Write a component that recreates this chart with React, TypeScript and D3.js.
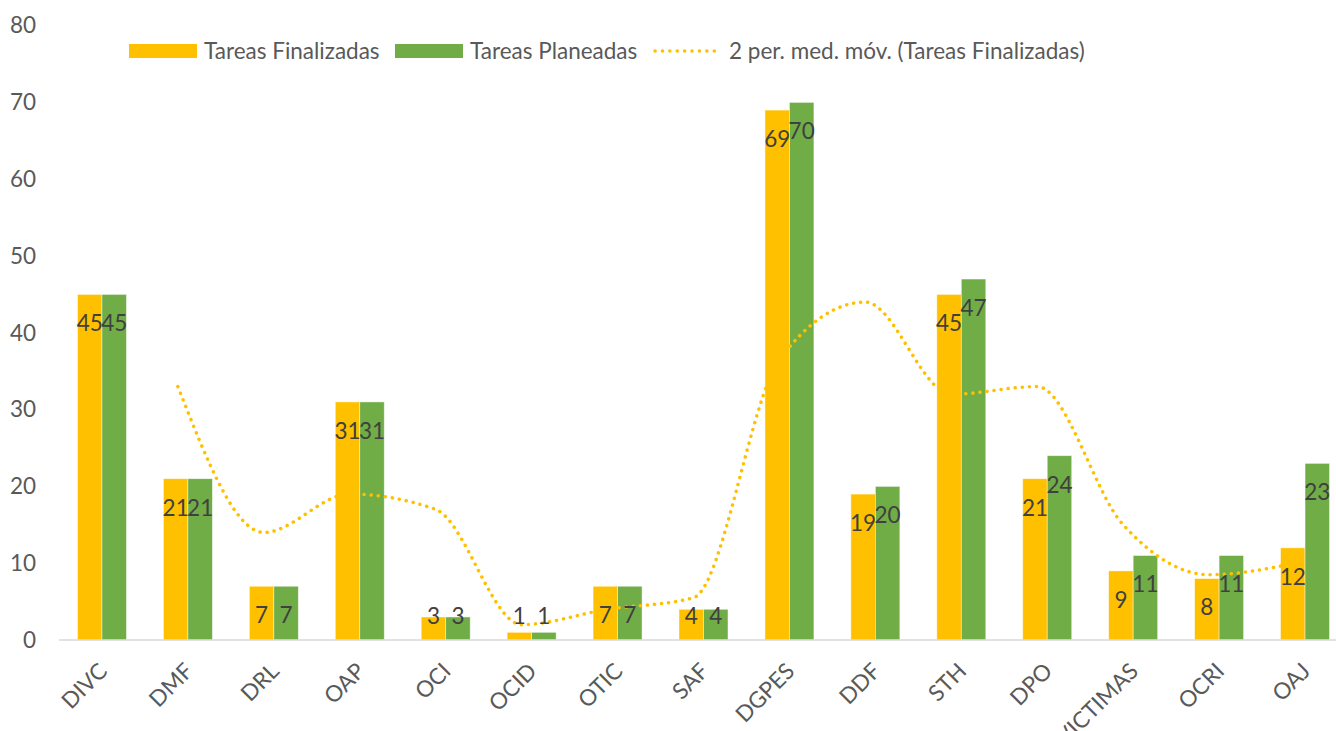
import React from "react";
import * as d3 from "d3";

const width = 1336;
const height = 731;

const categories = ["DIVC", "DMF", "DRL", "OAP", "OCI", "OCID", "OTIC", "SAF", "DGPES", "DDF", "STH", "DPO", "VICTIMAS", "OCRI", "OAJ"];
const finalizadas = [45, 21, 7, 31, 3, 1, 7, 4, 69, 19, 45, 21, 9, 8, 12];
const planeadas = [45, 21, 7, 31, 3, 1, 7, 4, 70, 20, 47, 24, 11, 11, 23];
// 2 period moving average, starts at the second category
const mediaMovil = [33, 14, 19, 17, 2, 4, 5.5, 36.5, 44, 32, 33, 15, 8.5, 10];
const seriesNames = ["Tareas Finalizadas", "Tareas Planeadas", "2 per. med. móv. (Tareas Finalizadas)"];
const yTicks = [0, 10, 20, 30, 40, 50, 60, 70, 80];

const YELLOW = "#FFC000";
const GREEN = "#70AD47";
const FONT = "Lato, 'Open Sans', sans-serif";

export default function App() {
  const x = d3
    .scaleBand<string>()
    .domain(categories)
    .range([59, 1348])
    .paddingInner(0.43)
    .paddingOuter(0.215);

  const sub = d3
    .scaleBand<number>()
    .domain([0, 1])
    .range([0, x.bandwidth()]);

  const y = d3.scaleLinear().domain([0, 80]).range([640, 25.6]);

  const center = (c: string) => (x(c) as number) + x.bandwidth() / 2;

  const line = d3
    .line<number>()
    .x((d, i) => center(categories[i + 1]) - 10)
    .y(d => y(d))
    .curve(d3.curveMonotoneX);

  const labelY = (v: number) => Math.min(y(v) + 29, y(0) - 24);

  const series = [finalizadas, planeadas];
  const colors = [YELLOW, GREEN];

  return (
    <svg
      width={width}
      height={height}
      style={{ position: "absolute", left: 0, top: 0, background: "#fff" }}
      fontFamily={FONT}
    >
      {/* y axis labels */}
      {yTicks.map(t => (
        <text key={t} x={36} y={y(t)} dy="0.35em" textAnchor="end" fontSize={22.5} fill="#595959">
          {t}
        </text>
      ))}

      {/* bars */}
      {series.map((s, si) =>
        s.map((v, i) => (
          <rect
            key={si + "-" + i}
            x={(x(categories[i]) as number) + (sub(si) as number)}
            y={y(v)}
            width={sub.bandwidth()}
            height={y(0) - y(v)}
            fill={colors[si]}
            stroke="#fff"
            strokeOpacity={0.6}
            strokeWidth={0.75}
          />
        ))
      )}

      {/* axis line */}
      <line x1={59} x2={width} y1={y(0)} y2={y(0)} stroke="#D9D9D9" strokeWidth={1.5} />

      {/* moving average */}
      <path
        d={line(mediaMovil) || ""}
        fill="none"
        stroke={YELLOW}
        strokeWidth={3.5}
        strokeLinecap="round"
        strokeDasharray="0.1 7"
      />

      {/* data labels */}
      {series.map((s, si) =>
        s.map((v, i) => (
          <text
            key={"l" + si + "-" + i}
            x={(x(categories[i]) as number) + (sub(si) as number) + sub.bandwidth() / 2}
            y={labelY(v)}
            dy="0.35em"
            textAnchor="middle"
            fontSize={22.5}
            fill="#404040"
          >
            {v}
          </text>
        ))
      )}

      {/* category labels */}
      {categories.map(c => (
        <text
          key={c}
          transform={`translate(${center(c) + 1}, 667) rotate(-45)`}
          dy="0.35em"
          textAnchor="end"
          fontSize={22.5}
          fill="#595959"
        >
          {c}
        </text>
      ))}

      {/* legend */}
      <g fontSize={22.5} fill="#595959">
        <rect x={129} y={44} width={68} height={14} fill={YELLOW} />
        <text x={204} y={51} dy="0.35em">{seriesNames[0]}</text>
        <rect x={395} y={44} width={68} height={14} fill={GREEN} />
        <text x={470} y={51} dy="0.35em">{seriesNames[1]}</text>
        <line
          x1={655}
          x2={721}
          y1={51}
          y2={51}
          stroke={YELLOW}
          strokeWidth={3.5}
          strokeLinecap="round"
          strokeDasharray="0.1 7.3"
        />
        <text x={729} y={51} dy="0.35em">{seriesNames[2]}</text>
      </g>
    </svg>
  );
}
